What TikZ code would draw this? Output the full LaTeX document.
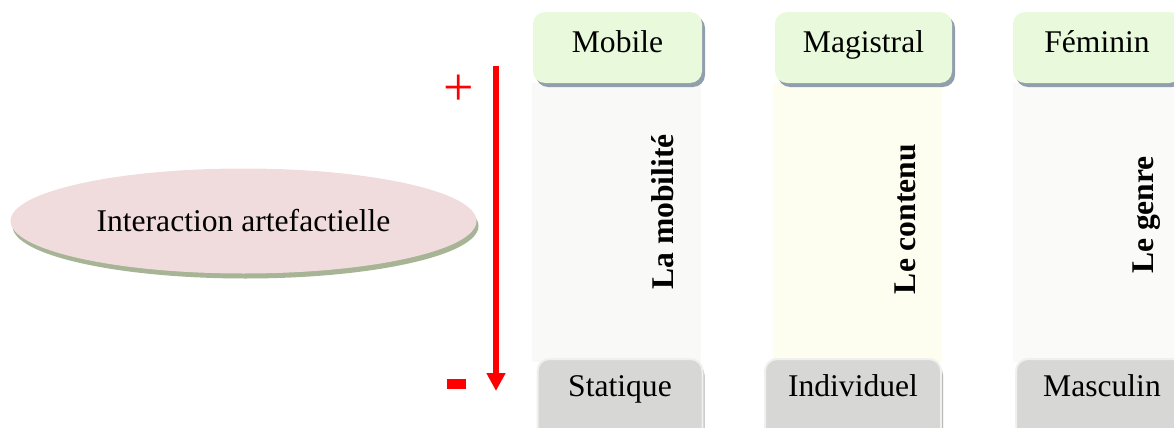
\documentclass[tikz,border=0pt]{standalone}
\usepackage{fontspec}
\setmainfont{Liberation Serif}
\usetikzlibrary{arrows.meta,positioning,shapes.geometric,shadows}

\definecolor{topgreen}{RGB}{233,250,220}
\definecolor{topshade}{RGB}{145,158,172}
\definecolor{botgray}{RGB}{215,215,213}
\definecolor{botedge}{RGB}{240,240,238}
\definecolor{stripa}{RGB}{249,249,247}
\definecolor{stripb}{RGB}{253,254,240}
\definecolor{stripc}{RGB}{250,250,248}
\definecolor{ovalpink}{RGB}{241,220,221}
\definecolor{ovalshade}{RGB}{167,181,150}

\begin{document}
\begin{tikzpicture}[
  x=0.5pt,y=-0.5pt,
  font=\fontsize{15.8}{19}\selectfont,
  topbox/.style={rounded corners=6pt,fill=topgreen,inner sep=0pt,anchor=base,
    text height=20.5pt,text depth=15pt,
    drop shadow={shadow xshift=1.5pt,shadow yshift=-2pt,fill=topshade,opacity=1}},
  botbox/.style={rounded corners=6pt,fill=botgray,draw=botedge,line width=1pt,inner sep=0pt,anchor=base,
    text height=18.5pt,text depth=22pt,
    drop shadow={shadow xshift=1pt,shadow yshift=-2pt,fill=black!30,opacity=1}},
  axis/.style={rotate=90,font=\fontsize{15.8}{19}\selectfont\bfseries},
  arr/.style={-{Triangle[width=9pt,length=9pt]},line width=3pt,red}
]
  \useasboundingbox (0,0) rectangle (1174,428);

  % background strips
  \fill[stripa] (532,83) rectangle (701,362);
  \fill[stripb] (773,83) rectangle (942,362);
  \fill[stripc] (1013,83) rectangle (1190,362);

  \node[ellipse,fill=ovalpink,minimum width=233pt,minimum height=52.5pt,inner sep=0pt,
    drop shadow={shadow xshift=1pt,shadow yshift=-2.5pt,fill=ovalshade,opacity=1}]
    (inter) at (243.5,221) {Interaction artefactielle};

  \coordinate (hi) at (496,66);
  \coordinate (lo) at (496,391);
  \draw[arr] (hi) -- (lo);
  \node[red,font=\fontsize{27}{30}\selectfont,inner sep=0pt] (plus) at (459,90) {+};
  \node[fill=red,inner sep=0pt,minimum width=9.5pt,minimum height=5pt] (minus) at (456.5,384) {};

  \node[topbox,minimum width=84.5pt] (mob) at (617.5,53) {Mobile};
  \node[topbox,minimum width=88.5pt] (mag) at (863.5,53) {Magistral};
  \node[topbox,minimum width=84pt] (fem) at (1097,53) {Féminin};

  \node[axis] (lmob) at (663,212) {La mobilité};
  \node[axis] (lcont) at (905,219) {Le contenu};
  \node[axis] (lgen) at (1147,215) {Le genre};

  \node[botbox,minimum width=82.5pt] (stat) at (620,396) {Statique};
  \node[botbox,minimum width=88pt] (indiv) at (853,396) {Individuel};
  \node[botbox,minimum width=86pt] (masc) at (1102,396) {Masculin};
\end{tikzpicture}
\end{document}
